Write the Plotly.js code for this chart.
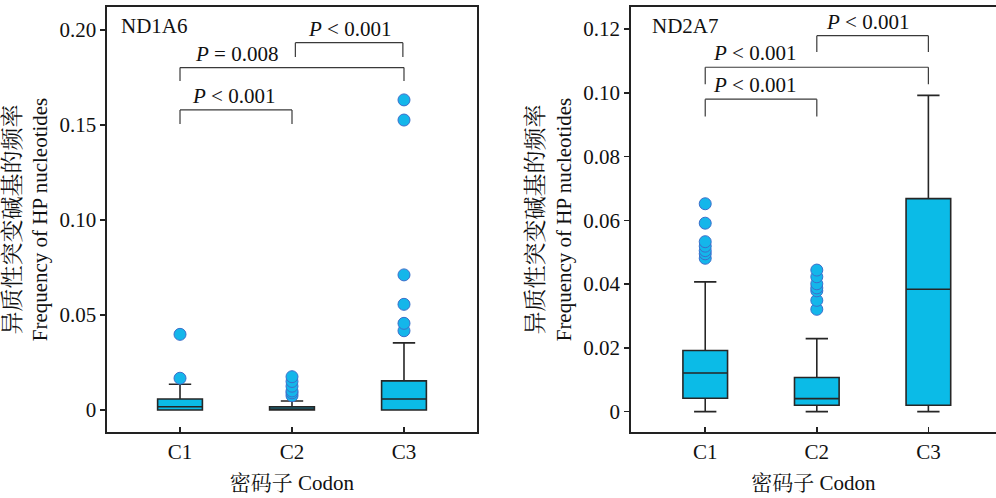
<!DOCTYPE html>
<html>
<head>
<meta charset="utf-8">
<script src="https://cdn.plot.ly/plotly-3.0.1.min.js"></script>
<style>html,body{margin:0;padding:0;background:#fff;}#chart{width:996px;height:498px;}</style>
</head>
<body>
<div id="chart"></div>
<script>
// ---------- data ----------
const categories = ['C1', 'C2', 'C3'];
const panelNames = ['ND1A6', 'ND2A7'];

// ND1A6 box statistics
const nd1Q1 = [0, 0, 0];
const nd1Median = [0.0017, 0.0003, 0.0058];
const nd1Q3 = [0.0058, 0.0016, 0.0153];
const nd1Lower = [0, 0, 0];
const nd1Upper = [0.0135, 0.0047, 0.0353];
// ND1A6 outliers
const nd1C1Out = [0.0167, 0.0398];
const nd1C2Out = [0.0075, 0.009, 0.010, 0.0125, 0.015, 0.0175];
const nd1C3Out = [0.0417, 0.0456, 0.0556, 0.0711, 0.1526, 0.1632];

// ND2A7 box statistics
const nd2Q1 = [0.0042, 0.0020, 0.0020];
const nd2Median = [0.0121, 0.0041, 0.0384];
const nd2Q3 = [0.0192, 0.0107, 0.0668];
const nd2Lower = [0, 0, 0];
const nd2Upper = [0.0407, 0.0229, 0.0992];
// ND2A7 outliers
const nd2C1Out = [0.0481, 0.0495, 0.0505, 0.0519, 0.0533, 0.0591, 0.0652];
const nd2C2Out = [0.0321, 0.0349, 0.0379, 0.0388, 0.0401, 0.0423, 0.0444];
const nd2C3Out = [];

// tick labels
const nd1TickVals = [0, 0.05, 0.10, 0.15, 0.20];
const nd1TickText = ['0', '0.05', '0.10', '0.15', '0.20'];
const nd2TickVals = [0, 0.02, 0.04, 0.06, 0.08, 0.10, 0.12];
const nd2TickText = ['0', '0.02', '0.04', '0.06', '0.08', '0.10', '0.12'];

// significance labels
const nd1PLabels = ['<i>P</i> &lt; 0.001', '<i>P</i> = 0.008', '<i>P</i> &lt; 0.001'];
const nd2PLabels = ['<i>P</i> &lt; 0.001', '<i>P</i> &lt; 0.001', '<i>P</i> &lt; 0.001'];

const yTitle = '<span style="font-size:23px">异质性突变碱基的频率</span><br>Frequency of HP nucleotides';
const xTitle = '密码子 Codon';

// ---------- styles ----------
const FONT = 'Liberation Serif, "Noto Serif CJK SC", "Noto Sans CJK SC", serif';
const BOX_FILL = '#0BBBE7';
const BOX_LINE = '#262626';
const PT_FILL = '#14B6EA';
const PT_LINE = '#3C6FCB';
const BR_COLOR = '#3a3a3a';

function boxTrace(q1, med, q3, lo, hi, xa, ya) {
  return {
    type: 'box', x: categories, q1: q1, median: med, q3: q3,
    lowerfence: lo, upperfence: hi, boxpoints: false,
    width: 0.4, whiskerwidth: 0.5,
    fillcolor: BOX_FILL, line: {color: BOX_LINE, width: 1.6},
    xaxis: xa, yaxis: ya, showlegend: false, hoverinfo: 'skip'
  };
}
function outTrace(groups, xa, ya) {
  const xs = [], ys = [];
  groups.forEach((g, i) => g.forEach(v => { xs.push(categories[i]); ys.push(v); }));
  return {
    type: 'scatter', mode: 'markers', x: xs, y: ys,
    marker: {size: 12, color: PT_FILL, line: {color: PT_LINE, width: 1}},
    xaxis: xa, yaxis: ya, showlegend: false, hoverinfo: 'skip'
  };
}

const data = [
  boxTrace(nd1Q1, nd1Median, nd1Q3, nd1Lower, nd1Upper, 'x', 'y'),
  outTrace([nd1C1Out, nd1C2Out, nd1C3Out], 'x', 'y'),
  boxTrace(nd2Q1, nd2Median, nd2Q3, nd2Lower, nd2Upper, 'x2', 'y2'),
  outTrace([nd2C1Out, nd2C2Out, nd2C3Out], 'x2', 'y2')
];

// brackets: [x0, x1, yTop, yBottom, labelX]
const nd1Brackets = [
  [0, 1, 0.1579, 0.1505, 0.48],
  [0, 2, 0.1802, 0.1732, 0.50],
  [1.03, 1.99, 0.1933, 0.1858, 1.51]
];
const nd2Brackets = [
  [0, 1, 0.0980, 0.0926, 0.445],
  [0, 2, 0.1080, 0.1027, 0.44],
  [1, 2, 0.1179, 0.1128, 1.45]
];

const shapes = [], annotations = [];
function addBrackets(list, labels, xr, yr) {
  list.forEach((b, i) => {
    const ln = {color: BR_COLOR, width: 1.2};
    shapes.push({type: 'line', xref: xr, yref: yr, x0: b[0], x1: b[1], y0: b[2], y1: b[2], line: ln});
    shapes.push({type: 'line', xref: xr, yref: yr, x0: b[0], x1: b[0], y0: b[2], y1: b[3], line: ln});
    shapes.push({type: 'line', xref: xr, yref: yr, x0: b[1], x1: b[1], y0: b[2], y1: b[3], line: ln});
    annotations.push({xref: xr, yref: yr, x: b[4], y: b[2], yanchor: 'bottom', xanchor: 'center',
      text: labels[i], showarrow: false, yshift: 0, font: {family: FONT, size: 21, color: '#111'}});
  });
}
addBrackets(nd1Brackets, nd1PLabels, 'x', 'y');
addBrackets(nd2Brackets, nd2PLabels, 'x2', 'y2');

annotations.push({xref: 'paper', yref: 'paper', x: 0.1195, y: 0.955, xanchor: 'left', yanchor: 'middle',
  text: panelNames[0], showarrow: false, font: {family: FONT, size: 21, color: '#111'}});
annotations.push({xref: 'paper', yref: 'paper', x: 0.653, y: 0.955, xanchor: 'left', yanchor: 'middle',
  text: panelNames[1], showarrow: false, font: {family: FONT, size: 21, color: '#111'}});

const axisLine = {showline: true, linecolor: '#222', linewidth: 1.6, showgrid: false, zeroline: false};
const tickFont = {family: FONT, size: 21, color: '#111'};

const layout = {
  width: 996, height: 498,
  margin: {l: 0, r: 0, t: 7, b: 66},
  paper_bgcolor: '#fff', plot_bgcolor: '#fff',
  font: {family: FONT, size: 21, color: '#111'},
  showlegend: false,
  xaxis: Object.assign({}, axisLine, {
    domain: [107 / 996, 477 / 996], anchor: 'y', type: 'category',
    range: [-0.652, 2.652], mirror: true,
    ticks: 'inside', ticklen: 5, tickwidth: 1.6, tickcolor: '#222', tickfont: tickFont,
    title: {text: xTitle, font: {family: FONT, size: 21, color: '#111'}, standoff: 12}
  }),
  yaxis: Object.assign({}, axisLine, {
    domain: [0, 1], anchor: 'x', range: [-0.0116, 0.2121], mirror: true,
    tickvals: nd1TickVals, ticktext: nd1TickText,
    ticks: 'outside', ticklen: 5, tickwidth: 1.6, tickcolor: '#222', tickfont: tickFont,
    title: {text: yTitle, font: {family: FONT, size: 21, color: '#111'}, standoff: 6}
  }),
  xaxis2: Object.assign({}, axisLine, {
    domain: [630.7 / 996, 1], anchor: 'y2', type: 'category',
    range: [-0.668, 2.606], mirror: true,
    ticks: 'inside', ticklen: 5, tickwidth: 1.6, tickcolor: '#222', tickfont: tickFont,
    title: {text: xTitle, font: {family: FONT, size: 21, color: '#111'}, standoff: 12}
  }),
  yaxis2: Object.assign({}, axisLine, {
    domain: [0, 1], anchor: 'x2', range: [-0.00638, 0.1269], mirror: false,
    tickvals: nd2TickVals, ticktext: nd2TickText,
    ticks: 'outside', ticklen: 5, tickwidth: 1.6, tickcolor: '#222', tickfont: tickFont,
    title: {text: yTitle, font: {family: FONT, size: 21, color: '#111'}, standoff: 6}
  }),
  shapes: shapes,
  annotations: annotations
};

Plotly.newPlot('chart', data, layout, {staticPlot: true, displayModeBar: false});
</script>
</body>
</html>
